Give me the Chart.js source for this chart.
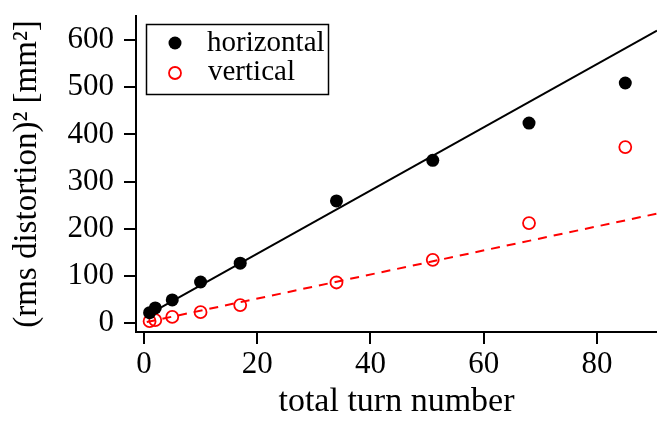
<!DOCTYPE html>
<html>
<head>
<meta charset="utf-8">
<script src="https://cdn.jsdelivr.net/npm/chart.js@4"></script>
<style>
  html, body { margin: 0; padding: 0; background: #fff; }
  #wrap { width: 657px; height: 422px; }
</style>
</head>
<body>
<div id="wrap"><canvas id="chart" width="657" height="422"></canvas></div>
<script>
// turn numbers and measured (rms distortion)^2
const turns = [1, 2, 5, 10, 17, 34, 51, 68, 85];
const horizontal = [22, 32, 49, 87, 127, 259, 345, 424, 509];
const vertical = [4, 6, 13, 23, 38, 86, 134, 212, 373];

// linear fits (end points of the drawn lines)
const fitX = [0.5, 90.6];
const horizFit = [16, 620];
const vertFit = [2, 232];

const xTicks = [0, 20, 40, 60, 80];
const yTicks = [0, 100, 200, 300, 400, 500, 600];

const serif = '"Liberation Serif", "Times New Roman", serif';

function pts(xs, ys) {
    return xs.map((x, i) => ({ x: x, y: ys[i] }));
}

// legend box drawn in the top-left corner of the plot
const boxLegend = {
    id: 'boxLegend',
    afterDraw(chart) {
        const ctx = chart.ctx;
        ctx.save();
        ctx.strokeStyle = '#000';
        ctx.lineWidth = 1.5;
        ctx.strokeRect(146.5, 24.5, 182, 70);
        ctx.fillStyle = '#000';
        ctx.beginPath();
        ctx.arc(175, 43, 6.5, 0, Math.PI * 2);
        ctx.fill();
        ctx.strokeStyle = '#ff0000';
        ctx.lineWidth = 1.8;
        ctx.beginPath();
        ctx.arc(175, 73, 6, 0, Math.PI * 2);
        ctx.stroke();
        ctx.fillStyle = '#000';
        ctx.font = '29px ' + serif;
        ctx.textBaseline = 'middle';
        ctx.fillText('horizontal', 207, 43);
        ctx.fillText('vertical', 208, 72);
        ctx.restore();
    }
};

const ctx = document.getElementById('chart').getContext('2d');
new Chart(ctx, {
    type: 'scatter',
    data: {
        datasets: [{
            label: 'horizontal fit',
            type: 'line',
            data: pts(fitX, horizFit),
            borderColor: '#000',
            borderWidth: 2,
            pointRadius: 0,
            fill: false
        }, {
            label: 'vertical fit',
            type: 'line',
            data: pts(fitX, vertFit),
            borderColor: '#ff0000',
            borderWidth: 2,
            borderDash: [9, 7],
            pointRadius: 0,
            fill: false
        }, {
            label: 'horizontal',
            data: pts(turns, horizontal),
            backgroundColor: '#000',
            borderColor: '#000',
            pointRadius: 6.5,
            pointBorderWidth: 0
        }, {
            label: 'vertical',
            data: pts(turns, vertical),
            backgroundColor: 'rgba(0,0,0,0)',
            borderColor: '#ff0000',
            pointRadius: 6,
            pointBorderWidth: 1.8
        }]
    },
    options: {
        responsive: false,
        animation: false,
        clip: false,
        layout: { autoPadding: false, padding: { top: 16, right: 0, left: 0, bottom: 0 } },
        plugins: {
            legend: { display: false },
            tooltip: { enabled: false }
        },
        scales: {
            x: {
                type: 'linear',
                min: -1.4,
                max: 90.6,
                afterBuildTicks: s => { s.ticks = xTicks.map(v => ({ value: v })); },
                afterFit: s => { s.height = 90; s.paddingLeft = 0; s.paddingRight = 0; },
                border: { color: '#000', width: 2 },
                grid: { drawOnChartArea: false, drawTicks: true, tickLength: 12, color: '#000', lineWidth: 2 },
                ticks: { color: '#000', font: { family: serif, size: 31 }, padding: 2, maxRotation: 0 },
                title: { display: true, text: 'total turn number', color: '#000', font: { family: serif, size: 34 }, padding: { top: 0, bottom: 0 } }
            },
            y: {
                type: 'linear',
                min: -19,
                max: 651,
                afterBuildTicks: s => { s.ticks = yTicks.map(v => ({ value: v })); },
                afterFit: s => { s.width = 136; s.paddingTop = 0; s.paddingBottom = 0; },
                border: { color: '#000', width: 2 },
                grid: { drawOnChartArea: false, drawTicks: true, tickLength: 12, color: '#000', lineWidth: 2 },
                ticks: { color: '#000', font: { family: serif, size: 31 }, padding: 10 },
                title: { display: true, text: '(rms distortion)² [mm²]', color: '#000', font: { family: serif, size: 33 }, padding: { top: 8, bottom: 0 } }
            }
        }
    },
    plugins: [boxLegend]
});
</script>
</body>
</html>
